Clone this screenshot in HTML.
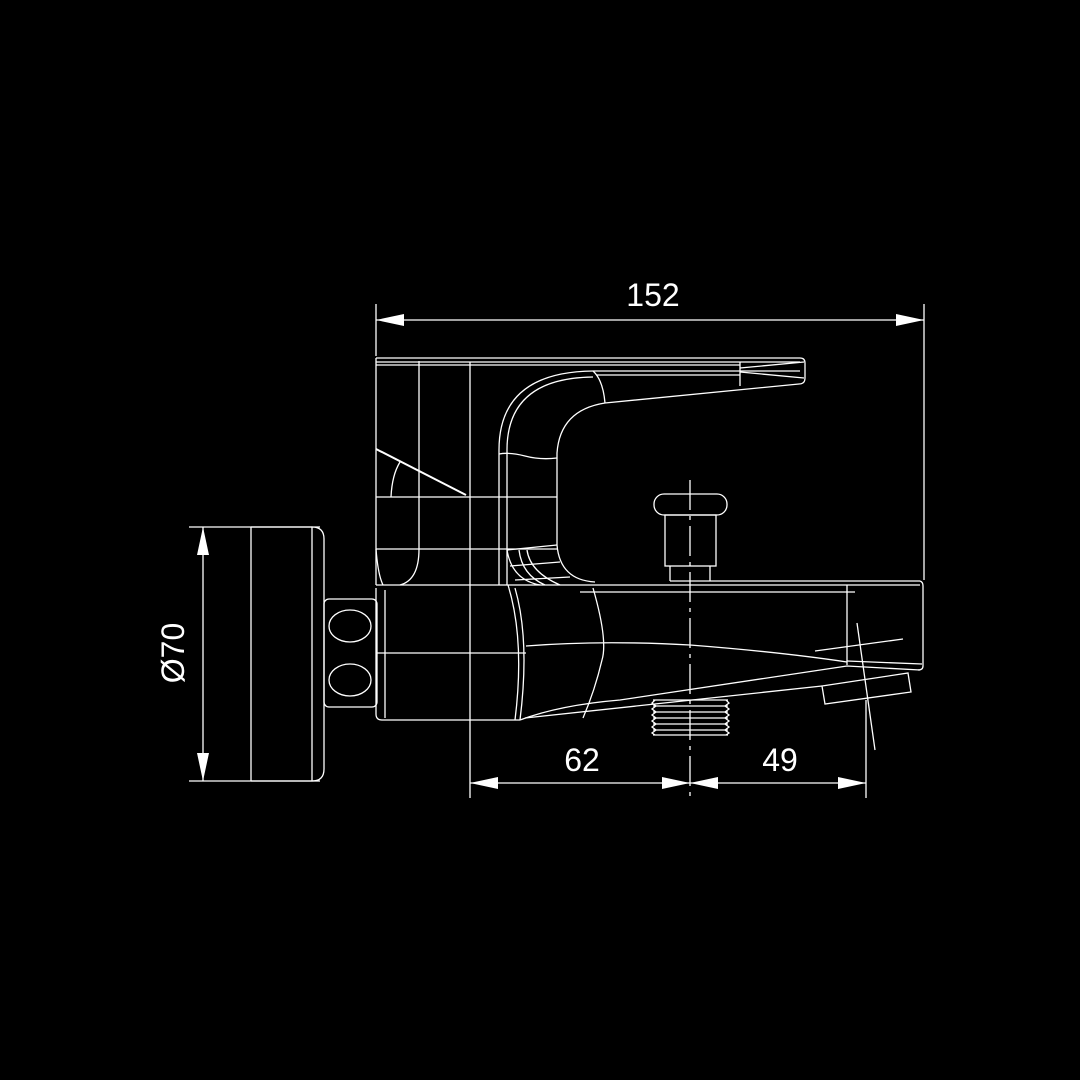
<!DOCTYPE html>
<html><head><meta charset="utf-8"><style>html,body{margin:0;padding:0;background:#000}svg{display:block}</style></head><body>
<svg width="1080" height="1080" viewBox="0 0 1080 1080" xmlns="http://www.w3.org/2000/svg">
<rect width="1080" height="1080" fill="#000"/>
<g fill="none" stroke="#fff" stroke-width="1.3">
<!-- dimension 152 -->
<line x1="376" y1="304" x2="376" y2="356"/>
<line x1="924" y1="304" x2="924" y2="580"/>
<line x1="376" y1="320" x2="924" y2="320"/>
<!-- bottom dims -->
<line x1="470" y1="362" x2="470" y2="798"/>
<line x1="866" y1="700" x2="866" y2="798"/>
<line x1="470" y1="783" x2="866" y2="783"/>
<!-- left dim -->
<line x1="189" y1="527" x2="320" y2="527"/>
<line x1="189" y1="781" x2="320" y2="781"/>
<line x1="203" y1="527" x2="203" y2="781"/>
<!-- wall plate -->
<path d="M251 527 H312 Q324 527 324 539 V769 Q324 781 312 781 H251"/>
<line x1="251" y1="527" x2="251" y2="781"/>
<line x1="312" y1="527" x2="312" y2="781"/>
<rect x="324" y="599" width="53" height="108" rx="5"/>
<ellipse cx="350" cy="626" rx="21" ry="16"/>
<ellipse cx="350" cy="680" rx="21" ry="16"/>
<!-- upper body -->
<line x1="376" y1="358" x2="376" y2="585"/>
<path d="M376 358 H800 Q805 358 805 363 V378 Q805 384 799 384 L605 403"/>
<line x1="376" y1="362" x2="800" y2="362"/>
<line x1="376" y1="365" x2="740" y2="365"/>
<line x1="596" y1="375" x2="740" y2="375"/>
<path d="M740 372 L804 378"/><path d="M740 368 L804 362"/>
<line x1="740" y1="362" x2="740" y2="386"/>
<line x1="419" y1="361" x2="419" y2="497"/>
<line x1="376" y1="449" x2="466" y2="495" stroke-width="2"/>
<path d="M400 462 Q392 475 391 497"/>
<line x1="376" y1="497" x2="557" y2="497"/>
<line x1="376" y1="549" x2="557" y2="549"/>
<line x1="419" y1="497" x2="419" y2="549"/>
<path d="M376 549 Q378 575 383 585"/>
<path d="M419 549 Q419 580 400 585"/>
<!-- handle arc -->
<path d="M499 585 V450 Q499 372 593 371 H800"/>
<path d="M507 585 V450 Q507 378 593 377"/>
<path d="M593 371 Q603 380 605 403"/>
<path d="M557 545 V453 Q560 410 605 403"/>
<path d="M499 454 Q510 452 525 456 Q540 460 557 458"/>
<path d="M557 545 Q560 580 595 582"/>
<path d="M507 550 Q512 580 540 585"/>
<path d="M519 550 Q522 575 545 585"/>
<path d="M527 550 Q530 572 560 585"/>
<line x1="507" y1="550" x2="557" y2="545"/>
<line x1="510" y1="566" x2="560" y2="562"/>
<line x1="515" y1="580" x2="570" y2="577"/>
<!-- lower body -->
<path d="M376 588 V714 Q376 720 382 720 H520"/>
<line x1="385" y1="590" x2="385" y2="718"/>
<line x1="376" y1="653" x2="526" y2="653"/>
<line x1="376" y1="585" x2="920" y2="585"/>
<path d="M508 585 Q525 640 515 720"/>
<path d="M515 588 Q530 640 520 720"/>
<path d="M593 588 Q608 640 602 660 Q595 690 583 718"/>
<path d="M526 646 Q600 640 690 645 Q780 652 847 662"/>
<path d="M520 720 Q560 705 620 700 L847 666 L920 670"/>
<path d="M525 718 L822 686"/>
<line x1="670" y1="581" x2="920" y2="581"/>
<line x1="580" y1="592" x2="855" y2="592"/>
<path d="M920 581 Q923 582 923 586 V666 Q923 670 918 670"/>
<line x1="847" y1="585" x2="847" y2="665"/>
<line x1="815" y1="651" x2="903" y2="639"/>
<line x1="847" y1="661" x2="922" y2="664"/>
<polygon points="822,686 908,673 911,692 825,704"/>
<line x1="857" y1="623" x2="875" y2="750"/>
<!-- knob -->
<rect x="654" y="494" width="73" height="21" rx="10"/>
<rect x="665" y="515" width="51" height="51"/>
<path d="M670 566 V581 M710 566 V581"/>
<line x1="690" y1="480" x2="690" y2="800" stroke-dasharray="30 6 4 6"/>
<!-- thread -->
<path d="M653 700 H728 M653 706 H728 M653 712 H728 M653 718 H728 M653 724 H728 M653 730 H728 M653 735 H728"/>
<path d="M655 700 L652 703 L656 706 L652 709 L656 712 L652 715 L656 718 L652 721 L656 724 L652 727 L656 730 L652 733 L655 735"/>
<path d="M726 700 L729 703 L725 706 L729 709 L725 712 L729 715 L725 718 L729 721 L725 724 L729 727 L725 730 L729 733 L726 735"/>
</g>
<g fill="#fff">
<polygon points="376,320 404,314 404,326"/>
<polygon points="924,320 896,314 896,326"/>
<polygon points="470,783 498,777 498,789"/>
<polygon points="690,783 662,777 662,789"/>
<polygon points="690,783 718,777 718,789"/>
<polygon points="866,783 838,777 838,789"/>
<polygon points="203,527 197,555 209,555"/>
<polygon points="203,781 197,753 209,753"/>
</g>
<g fill="#fff" font-family="Liberation Sans, sans-serif" font-size="32" text-anchor="middle">
<text x="653" y="306">152</text>
<text x="582" y="771">62</text>
<text x="780" y="771">49</text>
<text transform="translate(184,653) rotate(-90)">Ø70</text>
</g>
</svg>
</body></html>
